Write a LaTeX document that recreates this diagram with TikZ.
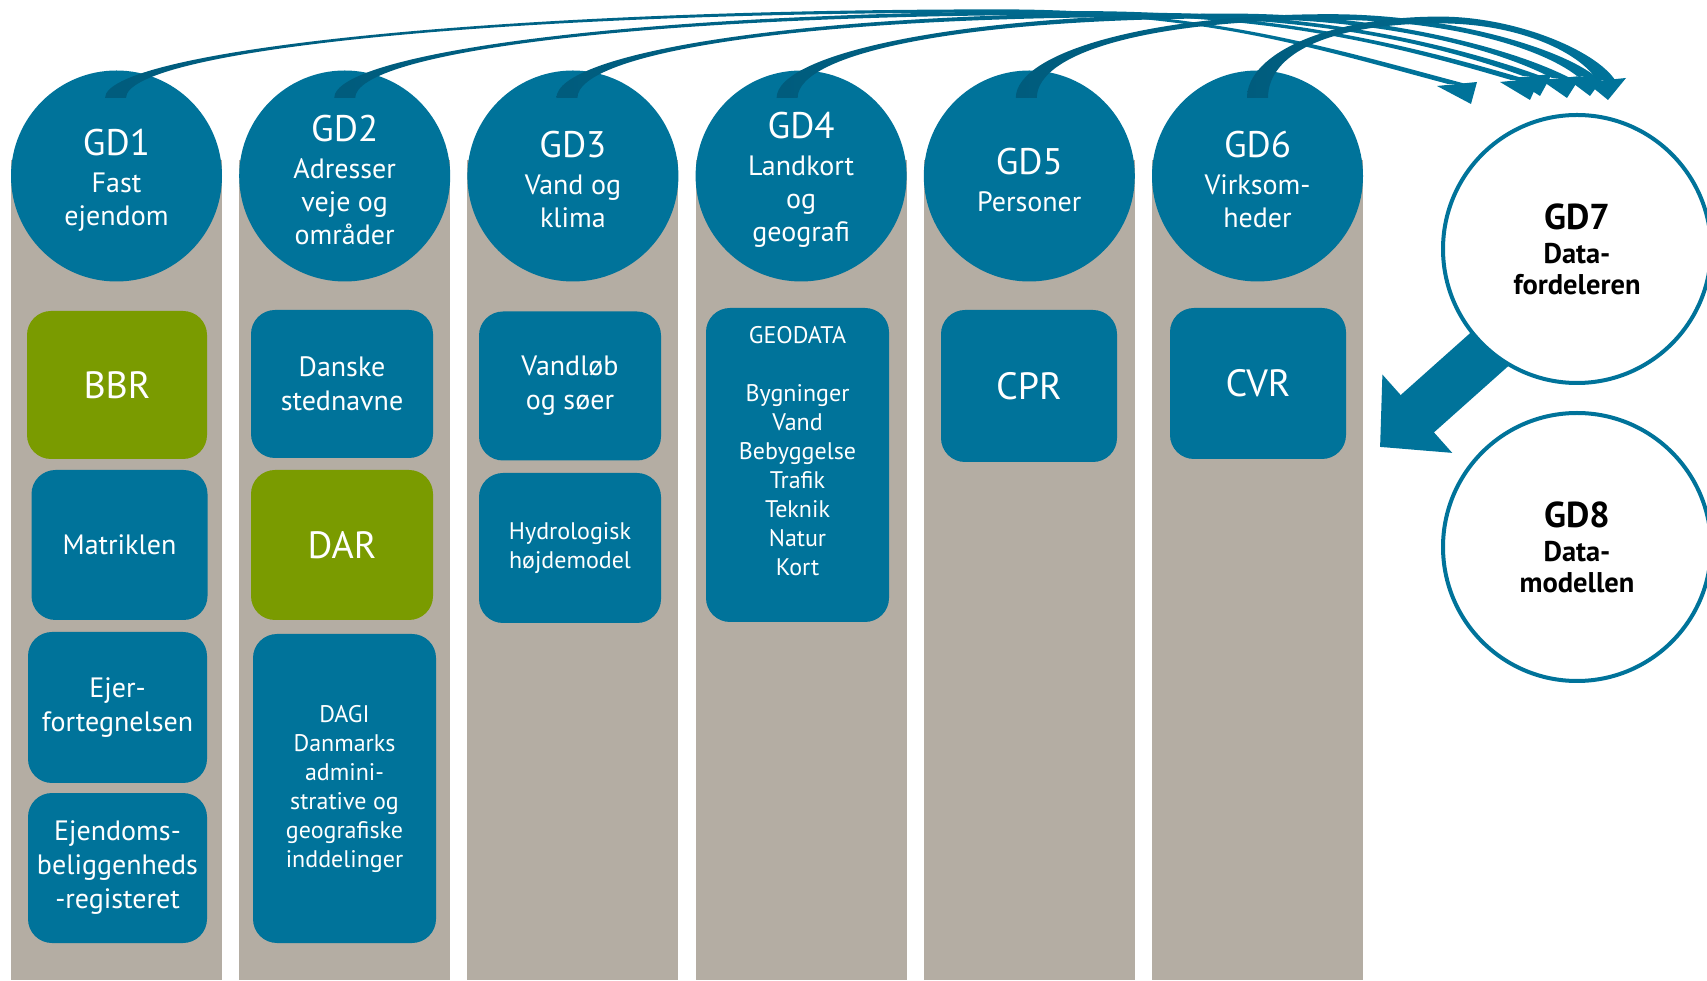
\documentclass[tikz,border=0pt]{standalone}
\usepackage{fontspec}
\setmainfont{PT Sans}
\usetikzlibrary{arrows.meta,calc}

\definecolor{gdteal}{HTML}{00739A}
\definecolor{gddark}{HTML}{005C7D}
\definecolor{gdgray}{HTML}{B4ADA3}
\definecolor{gdgreen}{HTML}{7A9B00}

\newcommand\gdtitle[1]{{\fontsize{37}{40}\selectfont\rule{0pt}{34pt}#1}}
\newcommand\hubtitle[1]{{\fontsize{36}{38}\selectfont #1}}

\tikzset{
  colbar/.style={fill=gdgray},
  gdnode/.style={circle, fill=gdteal, text=white, minimum size=211pt, inner sep=0pt,
    align=center, font=\fontsize{28}{33}\selectfont},
  regbox/.style={rounded corners=24pt, fill=gdteal, text=white, inner sep=0pt,
    align=center, font=\fontsize{28}{34}\selectfont},
  keyreg/.style={regbox, fill=gdgreen},
  bigtext/.style={font=\fontsize{38}{40}\selectfont},
  smalltext/.style={font=\fontsize{24}{29}\selectfont},
  hubnode/.style={circle, draw=gdteal, line width=4pt, fill=white, minimum size=268pt,
    inner sep=0pt, align=center, font=\bfseries\fontsize{28.5}{31}\selectfont},
  bigarrow/.style={draw=gdteal, line width=50pt, -{Triangle[width=102pt,length=50pt]}}
}

\begin{document}
\begin{tikzpicture}[x=1pt,y=1pt]
    \useasboundingbox (0,0) rectangle (1707,980);
    \clip (0,0) rectangle (1707,980);

    % grey columns
    \foreach \k in {0,...,5}
        \fill[colbar] (11+228.2*\k,0) rectangle ++(211,820);

    % domains
    \node[gdnode] (gd1) at (116.5,804) {\gdtitle{GD1}\\[4pt]Fast\\ejendom};
    \node[gdnode] (gd2) at (344.7,804) {\gdtitle{GD2}\\[4pt]Adresser\\veje og\\områder};
    \node[gdnode] (gd3) at (572.9,804) {\gdtitle{GD3}\\[4pt]Vand og\\klima};
    \node[gdnode] (gd4) at (801.1,804) {\gdtitle{GD4}\\[4pt]Landkort\\og\\geografi};
    \node[gdnode] (gd5) at (1029.3,804) {\gdtitle{GD5}\\[4pt]Personer};
    \node[gdnode] (gd6) at (1257.5,804) {\gdtitle{GD6}\\[4pt]Virksom-\\heder};

    % registers
    \node[keyreg, bigtext, minimum width=180pt, minimum height=148pt] (bbr) at (117,595) {BBR};
    \node[regbox, minimum width=176pt, minimum height=150pt] (matr) at (119.5,435) {Matriklen};
    \node[regbox, minimum width=179pt, minimum height=151pt] (ejer) at (117.5,272.5) {Ejer-\\fortegnelsen};
    \node[regbox, minimum width=179pt, minimum height=150pt] (ebr) at (117.5,112) {Ejendoms-\\beliggenheds\\-registeret};

    \node[regbox, minimum width=182pt, minimum height=148pt] (sted) at (342,596) {Danske\\stednavne};
    \node[keyreg, bigtext, minimum width=182pt, minimum height=150pt] (dar) at (342,435) {DAR};
    \node[regbox, smalltext, minimum width=183pt, minimum height=309pt] (dagi) at (344.5,191.5)
        {DAGI\\Danmarks\\admini-\\strative og\\geografiske\\inddelinger};

    \node[regbox, minimum width=182pt, minimum height=149pt] (vand) at (570,594) {Vandløb\\og søer};
    \node[regbox, smalltext, minimum width=182pt, minimum height=150pt] (hoej) at (570,432) {Hydrologisk\\højdemodel};

    \node[regbox, minimum width=183pt, minimum height=314pt] (geo) at (797.5,515) {};
    \node[smalltext, text=white, align=center, inner sep=0pt] (geotxt) at ([yshift=14pt]geo.center)
        {GEODATA\\[29pt]Bygninger\\Vand\\Bebyggelse\\Trafik\\Teknik\\Natur\\Kort};

    \node[regbox, bigtext, minimum width=176pt, minimum height=152pt] (cpr) at (1029,594) {CPR};
    \node[regbox, bigtext, minimum width=176pt, minimum height=151pt] (cvr) at (1258,596.5) {CVR};

    % curved arrows from each domain up to GD7
    \foreach \k/\off/\px/\py/\ua/\ub/\hx/\hy/\vx/\vy/\th/\tx in {
        1/-1/1000/969/531/206/1457/896/-137/36.5/1.6/14,
        2/0/1080/967/441/198/1520/900/-114/33.5/1.9/10,
        3/-6/1150/965/350/172/1532/904/-84/30.5/2.1/8,
        4/-14/1230/964/266/149/1561/902/-60/31/2.4/6,
        5/-3/1330/963/182/115/1586/904/-38/29.5/2.8/4,
        6/0/1440/960/110/75/1606/900/-20/30/3.4/2}{
        \coordinate (head) at (\hx,\hy);
        \shade[left color=gddark, right color=gdteal]
            ([shift={(\off-10.5,78)}]gd\k.center) .. controls +(0,45) and +(-\ua,0) .. (\px,\py+\th)
            .. controls +(\ub,0) and +(\vx,\vy) .. ([xshift=9pt]head)
            -- ([xshift=-9pt]head) .. controls +(\vx,\vy) and +(\ub,0) .. (\px,\py-\th)
            .. controls +(-\ua,0) and +(0,45) .. ([shift={(\off+10.5,78)}]gd\k.center) -- cycle;
        \fill[gdteal] ([shift={(-20,-2)}]head) -- ([shift={(20,2)}]head) -- ([shift={(\tx,-20)}]head) -- cycle;
    }

    % distributor and data model
    \coordinate (gd7c) at (1577,731);
    \coordinate (drop) at (1380,533);
    \draw[bigarrow] ([shift={(-3,-25)}]gd7c) -- (drop);
    \node[hubnode] (gd7) at (gd7c) {\hubtitle{GD7}\\[3pt]Data-\\fordeleren};
    \node[hubnode] (gd8) at (1577,433) {\hubtitle{GD8}\\[3pt]Data-\\modellen};
\end{tikzpicture}
\end{document}
